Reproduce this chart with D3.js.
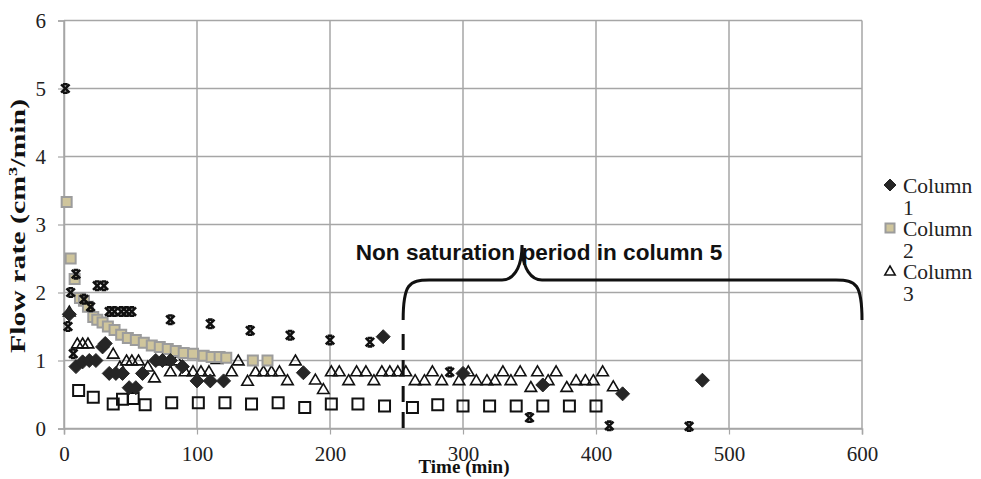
<!DOCTYPE html>
<html>
<head>
<meta charset="utf-8">
<script src="https://cdn.jsdelivr.net/npm/d3@7"></script>
<style>
body { margin: 0; background: #fff; }
</style>
</head>
<body>
<svg id="chart" width="981" height="479" font-family="Liberation Serif, Times New Roman, serif"></svg>
<script>
// series: time (min) and flow rate (cm3/min)
var col1Time = [4, 9, 14, 19, 24, 29, 31, 34, 39, 44, 49, 54, 59, 69, 74, 80, 89, 100, 110, 120, 180, 240, 300, 360, 420, 480];
var col1Rate = [1.68, 0.91, 0.98, 1.0, 1.0, 1.2, 1.25, 0.81, 0.81, 0.81, 0.6, 0.6, 0.81, 1.0, 1.0, 1.0, 0.91, 0.7, 0.7, 0.7, 0.82, 1.35, 0.81, 0.64, 0.51, 0.71];

var col2Time = [2, 5, 8, 12, 15, 18, 22, 25, 29, 33, 38, 43, 48, 54, 60, 66, 72, 78, 84, 90, 97, 105, 111, 117, 122, 142, 153];
var col2Rate = [3.33, 2.5, 2.2, 1.92, 1.88, 1.79, 1.64, 1.6, 1.56, 1.5, 1.45, 1.38, 1.33, 1.3, 1.26, 1.22, 1.2, 1.17, 1.14, 1.11, 1.1, 1.07, 1.05, 1.05, 1.04, 1.0, 1.0];

var col3Time = [4, 10, 14, 18, 37, 42, 47, 51, 56, 63, 68, 75, 80, 85, 91, 97, 103, 109, 115, 126, 131, 138, 144, 150, 156, 162, 168, 174,
    189, 195, 201, 207, 214, 220, 227, 233, 239, 245, 251, 257, 264, 271, 277, 284, 297, 304, 310, 318, 324, 330, 336, 343, 351, 356, 364, 370, 378, 385, 392, 398, 405, 413];
var col3Rate = [1.72, 1.25, 1.25, 1.25, 1.1, 0.91, 1.0, 1.0, 1.0, 0.91, 0.75, 1.0, 0.84, 1.0, 0.84, 0.84, 0.84, 0.84, 1.02, 0.84, 1.0, 0.7, 0.84, 0.84, 0.84, 0.84, 0.71, 1.0,
    0.72, 0.58, 0.84, 0.84, 0.71, 0.84, 0.84, 0.71, 0.84, 0.84, 0.84, 0.84, 0.71, 0.71, 0.84, 0.71, 0.71, 0.84, 0.71, 0.71, 0.71, 0.84, 0.71, 0.84, 0.61, 0.84, 0.71, 0.84, 0.61, 0.71, 0.71, 0.71, 0.84, 0.62];

var col4Time = [11, 22, 37, 44, 52, 61, 81, 101, 121, 141, 161, 181, 201, 221, 241, 262, 281, 300, 320, 340, 360, 380, 400];
var col4Rate = [0.56, 0.46, 0.36, 0.43, 0.44, 0.35, 0.38, 0.38, 0.38, 0.36, 0.38, 0.31, 0.36, 0.36, 0.33, 0.31, 0.35, 0.33, 0.33, 0.33, 0.33, 0.33, 0.33];

var col5Time = [1, 3, 5, 7, 9, 15, 20, 25, 30, 34, 38, 43, 47, 51, 80, 110, 140, 170, 200, 230, 290, 350, 410, 470];
var col5Rate = [5.0, 1.5, 2.0, 1.1, 2.27, 1.9, 1.79, 2.1, 2.1, 1.72, 1.72, 1.72, 1.72, 1.72, 1.6, 1.54, 1.44, 1.37, 1.3, 1.27, 0.83, 0.16, 0.04, 0.03];

var xTicks = [0, 100, 200, 300, 400, 500, 600];
var yTicks = [0, 1, 2, 3, 4, 5, 6];
var legendNames = ['Column 1', 'Column 2', 'Column 3'];
var noteText = 'Non saturation period in column 5';
var saturationEnd = 255;

var svg = d3.select('#chart');
var plotL = 64, plotR = 862, plotT = 20.5, plotB = 428.5;

var x = d3.scaleLinear().domain([0, 600]).range([plotL, plotR]);
var y = d3.scaleLinear().domain([0, 6]).range([plotB, plotT]);

var gridColor = '#a6a6a6';

// gridlines
svg.append('g').selectAll('line').data(yTicks).enter().append('line')
    .attr('x1', plotL).attr('x2', plotR)
    .attr('y1', function(d) { return y(d); }).attr('y2', function(d) { return y(d); })
    .attr('stroke', gridColor).attr('stroke-width', 1.5);
svg.append('g').selectAll('line').data(xTicks).enter().append('line')
    .attr('y1', plotT).attr('y2', plotB)
    .attr('x1', function(d) { return x(d); }).attr('x2', function(d) { return x(d); })
    .attr('stroke', gridColor).attr('stroke-width', 1.5);

// axes
var xAxis = svg.append('g').attr('transform', 'translate(0,' + plotB + ')')
    .call(d3.axisBottom(x).tickValues(xTicks).tickSize(6).tickPadding(12).tickFormat(d3.format('d')));
var yAxis = svg.append('g').attr('transform', 'translate(' + plotL + ',0)')
    .call(d3.axisLeft(y).tickValues(yTicks).tickSize(6).tickPadding(12).tickFormat(d3.format('d')));
[xAxis, yAxis].forEach(function(a) {
    a.attr('font-family', null);
    a.select('.domain').attr('stroke', gridColor).attr('stroke-width', 1.5);
    a.selectAll('.tick line').attr('stroke', gridColor).attr('stroke-width', 1.2);
    a.selectAll('text').attr('font-size', 21).attr('fill', '#222');
});

// axis titles (the original y title is stretched along its length)
svg.append('text').attr('x', 464).attr('y', 473).attr('text-anchor', 'middle')
    .attr('font-weight', 'bold').attr('font-size', 19).attr('fill', '#111').text('Time (min)');
var yt = svg.append('text').attr('transform', 'translate(25,226) rotate(-90) scale(1.42,1)')
    .attr('text-anchor', 'middle').attr('font-weight', 'bold').attr('font-size', 21).attr('fill', '#111');
yt.append('tspan').text('Flow rate (cm');
yt.append('tspan').attr('font-size', 13).attr('dy', -8).text('3');
yt.append('tspan').attr('dy', 8).text('/min)');

// marker shapes
function diamond(s) { return 'M0,' + (-s) + 'L' + s + ',0L0,' + s + 'L' + (-s) + ',0Z'; }
function square(s) { return 'M' + (-s) + ',' + (-s) + 'H' + s + 'V' + s + 'H' + (-s) + 'Z'; }
function triangle(s) { return 'M0,' + (-s) + 'L' + (s * 1.05) + ',' + (s * 0.8) + 'H' + (-s * 1.05) + 'Z'; }
function cross(s) {
    var c = s * 0.55;
    return 'M' + (-s) + ',' + (-s) + 'L' + s + ',' + s + 'M' + s + ',' + (-s) + 'L' + (-s) + ',' + s +
        'M' + (-c) + ',' + (-s) + 'H' + c + 'M' + (-c) + ',' + s + 'H' + c;
}

function zip(t, v) { return t.map(function(d, i) { return [d, v[i]]; }); }

var series = [
    { pts: zip(col4Time, col4Rate), path: square(5.5), fill: 'none', stroke: '#111', sw: 2 },
    { pts: zip(col3Time, col3Rate), path: triangle(5.5), fill: 'none', stroke: '#111', sw: 1.6 },
    { pts: zip(col2Time, col2Rate), path: square(5), fill: '#cfc59c', stroke: '#9c9c9c', sw: 2 },
    { pts: zip(col5Time, col5Rate), path: cross(4.2), fill: 'none', stroke: '#111', sw: 2.6 },
    { pts: zip(col1Time, col1Rate), path: diamond(7), fill: '#262626', stroke: '#262626', sw: 1 }
];

series.forEach(function(s) {
    svg.append('g').selectAll('path').data(s.pts).enter().append('path')
        .attr('transform', function(d) { return 'translate(' + x(d[0]) + ',' + y(d[1]) + ')'; })
        .attr('d', s.path)
        .attr('fill', s.fill).attr('stroke', s.stroke).attr('stroke-width', s.sw);
});

// dashed line marking the start of the non saturation period
svg.append('line')
    .attr('x1', x(saturationEnd)).attr('x2', x(saturationEnd))
    .attr('y1', 334).attr('y2', plotB + 4)
    .attr('stroke', '#111').attr('stroke-width', 3).attr('stroke-dasharray', '16,10');

// curly brace from the dashed line to the end of the axis
var bx0 = x(saturationEnd), bx1 = plotR, bMid = 522, bTop = 245, bBar = 280, bEnd = 320;
var brace = 'M' + bx0 + ',' + bEnd +
    'C' + bx0 + ',' + (bBar + 4) + ' ' + (bx0 + 6) + ',' + bBar + ' ' + (bx0 + 26) + ',' + bBar +
    'L' + (bMid - 20) + ',' + bBar +
    'C' + (bMid - 10) + ',' + bBar + ' ' + bMid + ',' + (bBar - 10) + ' ' + bMid + ',' + bTop +
    'C' + bMid + ',' + (bBar - 10) + ' ' + (bMid + 10) + ',' + bBar + ' ' + (bMid + 20) + ',' + bBar +
    'L' + (bx1 - 26) + ',' + bBar +
    'C' + (bx1 - 6) + ',' + bBar + ' ' + bx1 + ',' + (bBar + 4) + ' ' + bx1 + ',' + bEnd;
svg.append('path').attr('d', brace).attr('fill', 'none').attr('stroke', '#111').attr('stroke-width', 3);

svg.append('text').attr('x', 539).attr('y', 260).attr('text-anchor', 'middle')
    .attr('font-family', 'Liberation Sans, Arial, sans-serif').attr('font-weight', 'bold')
    .attr('font-size', 22.6).attr('fill', '#111').text(noteText);

// legend (names wrap onto a second line, list is clipped after the third entry)
var legendMarks = [
    { path: diamond(6), fill: '#262626', stroke: '#262626', sw: 1 },
    { path: square(4.5), fill: '#cfc59c', stroke: '#9c9c9c', sw: 2 },
    { path: triangle(5), fill: 'none', stroke: '#111', sw: 1.5 }
];
var lg = svg.append('g').selectAll('g').data(legendNames).enter().append('g')
    .attr('transform', function(d, i) { return 'translate(890,' + (185 + i * 43) + ')'; });
lg.append('path')
    .attr('d', function(d, i) { return legendMarks[i].path; })
    .attr('fill', function(d, i) { return legendMarks[i].fill; })
    .attr('stroke', function(d, i) { return legendMarks[i].stroke; })
    .attr('stroke-width', function(d, i) { return legendMarks[i].sw; });
lg.append('text').attr('x', 13).attr('y', 8).attr('font-size', 21.5).attr('fill', '#222')
    .text(function(d) { return d.split(' ')[0]; });
lg.append('text').attr('x', 13).attr('y', 30).attr('font-size', 21.5).attr('fill', '#222')
    .text(function(d) { return d.split(' ')[1]; });
</script>
</body>
</html>
